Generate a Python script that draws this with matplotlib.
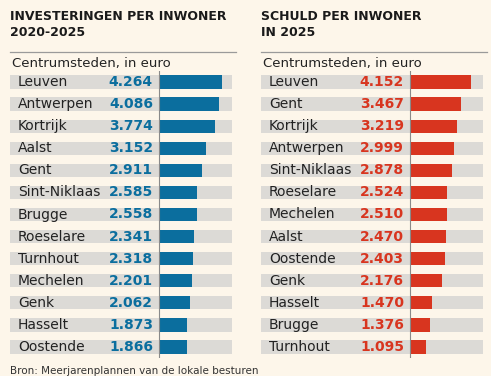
import matplotlib
matplotlib.use("Agg")
from matplotlib import pyplot as plt
from matplotlib.lines import Line2D

# data (in thousands of euro)
inv_cities = ["Leuven", "Antwerpen", "Kortrijk", "Aalst", "Gent", "Sint-Niklaas", "Brugge",
              "Roeselare", "Turnhout", "Mechelen", "Genk", "Hasselt", "Oostende"]
inv_values = [4.264, 4.086, 3.774, 3.152, 2.911, 2.585, 2.558, 2.341, 2.318, 2.201, 2.062, 1.873, 1.866]

debt_cities = ["Leuven", "Gent", "Kortrijk", "Antwerpen", "Sint-Niklaas", "Roeselare", "Mechelen",
               "Aalst", "Oostende", "Genk", "Hasselt", "Brugge", "Turnhout"]
debt_values = [4.152, 3.467, 3.219, 2.999, 2.878, 2.524, 2.510, 2.470, 2.403, 2.176, 1.470, 1.376, 1.095]

BG = "#fdf6ea"
GRAY = "#dcdad6"
W, H = 491, 376

fig = plt.figure(figsize=(W / 100, H / 100), dpi=100, facecolor=BG)
font = "DejaVu Sans"


def panel(x0, x1, xorig, pxunit, cities, values, color, title):
    left = (xorig - x0) / pxunit
    right = (x1 - xorig) / pxunit
    ytop, ybot = 71, 358
    ax = fig.add_axes([x0 / W, (H - ybot) / H, (x1 - x0) / W, (ybot - ytop) / H])
    ax.set_facecolor("none")
    n = len(cities)
    ys = list(range(n))
    ax.barh(ys, [left + right] * n, left=-left, height=0.6, color=GRAY)
    ax.barh(ys, values, height=0.6, color=color)
    ax.set_xlim(-left, right)
    ax.set_ylim(n - 0.5, -0.5)
    ax.axvline(0, color="#8a8a8a", lw=0.8)
    for y, c, v in zip(ys, cities, values):
        ax.text(-left + 8 / pxunit, y, c, va="center", ha="left", fontsize=10,
                color="#222222", family=font)
        ax.text(-6 / pxunit, y, f"{v:.3f}", va="center", ha="right", fontsize=10,
                color=color, fontweight="bold", family=font)
    ax.axis("off")
    fig.text(x0 / W, 1 - 10 / H, title, ha="left", va="top", fontsize=9,
             fontweight="bold", color="#1a1a1a", family=font, linespacing=1.35)
    fig.add_artist(Line2D([x0 / W, (x1 + 4) / W], [1 - 52 / H] * 2, color="#9a9a9a", lw=0.9))
    fig.text(x0 / W + 2 / W, 1 - 63 / H, "Centrumsteden, in euro", ha="left", va="center",
             fontsize=9.5, color="#222222", family=font)


panel(10, 232, 159, 14.8, inv_cities, inv_values, "#0b6e9e",
      "INVESTERINGEN PER INWONER\n2020-2025")
panel(261, 483, 410, 14.7, debt_cities, debt_values, "#d8351f",
      "SCHULD PER INWONER\nIN 2025")

fig.text(10 / W, 1 - 366 / H, "Bron: Meerjarenplannen van de lokale besturen", ha="left",
         va="top", fontsize=7.5, color="#333333", family=font)

fig.savefig("out.png", dpi=100, facecolor=BG)
